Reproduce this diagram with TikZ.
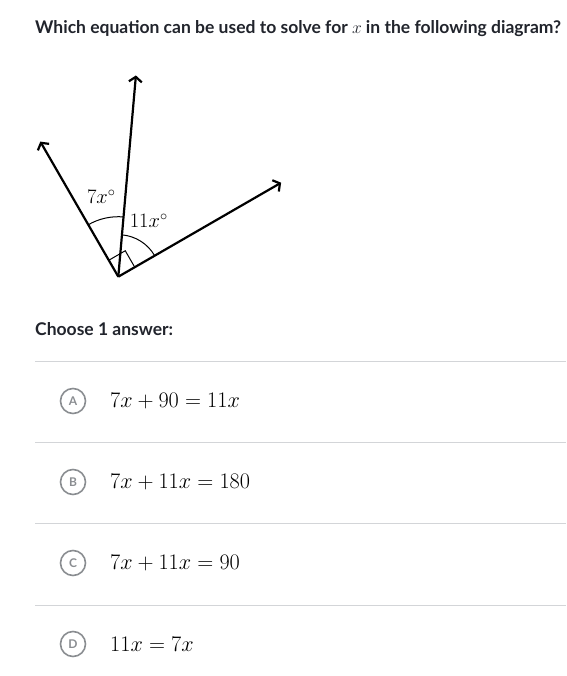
\RequirePackage{fix-cm}
\documentclass[tikz,border=0pt]{standalone}
\usepackage{fontspec}
\setmainfont{Lato}
\usetikzlibrary{arrows.meta}
\definecolor{inkgray}{HTML}{21242C}
\definecolor{rulegray}{HTML}{D3D5D8}
\definecolor{bubblegray}{HTML}{8A8D91}

\begin{document}
\begin{tikzpicture}[x=1pt, y=1pt,
    ray/.style={line width=2.2pt, -{Straight Barb[length=5pt, width=13pt, line width=2.2pt]}},
    anglearc/.style={line width=1pt},
    bubble/.style={circle, draw=bubblegray, line width=1.6pt, minimum size=25pt, inner sep=0pt,
      text=bubblegray, font=\fontsize{12}{12}\bfseries\selectfont},
    answer/.style={anchor=west, inner sep=0pt, font=\fontsize{22.2}{26}\selectfont}]
    \useasboundingbox (0,-676) rectangle (566,0);

    % Question
    \node[anchor=base west, inner sep=0pt, text=inkgray, font=\fontsize{17.5}{20}\bfseries\selectfont]
      (question) at (35,-34) {Which equation can be used to solve for $x$ in the following diagram?};

    % Angles
    \begin{scope}[shift={(118.3,-276.7)}]
      \coordinate (vertex) at (0,0);
      \coordinate (left) at (120:156);
      \coordinate (mid) at (85:202);
      \coordinate (right) at (30:188);
      \draw[ray] (vertex) -- (left);
      \draw[ray] (vertex) -- (mid);
      \draw[ray] (vertex) -- (right);
      \draw[anglearc] (120:60) arc[start angle=120, end angle=85, radius=60];
      \draw[anglearc] (85:42) arc[start angle=85, end angle=30, radius=42];
      \draw[anglearc] (120:19) -- ++(30:19) -- (30:19);
      \node[font=\fontsize{20.5}{21}\selectfont] (sevenx) at (-17,80) {$7x^\circ$};
      \node[font=\fontsize{20.5}{21}\selectfont] (elevenx) at (30.5,56) {$11x^\circ$};
    \end{scope}

    % Choices
    \node[anchor=base west, inner sep=0pt, text=inkgray, font=\fontsize{17.5}{20}\bfseries\selectfont]
      (choose) at (35,-335) {Choose 1 answer:};
    \foreach \yy in {361,442,523,605}
      \draw[rulegray, line width=1pt] (35,-\yy) -- (566,-\yy);
    \foreach \lab/\yy/\eq in {A/401/{7x+90=11x}, B/482/{7x+11x=180},
                              C/563/{7x+11x=90}, D/644/{11x=7x}} {
      \node[bubble] (bubble\lab) at (73,-\yy) {\lab};
      \node[answer] (answer\lab) at (110,-\yy) {$\eq$};
    }
\end{tikzpicture}
\end{document}
